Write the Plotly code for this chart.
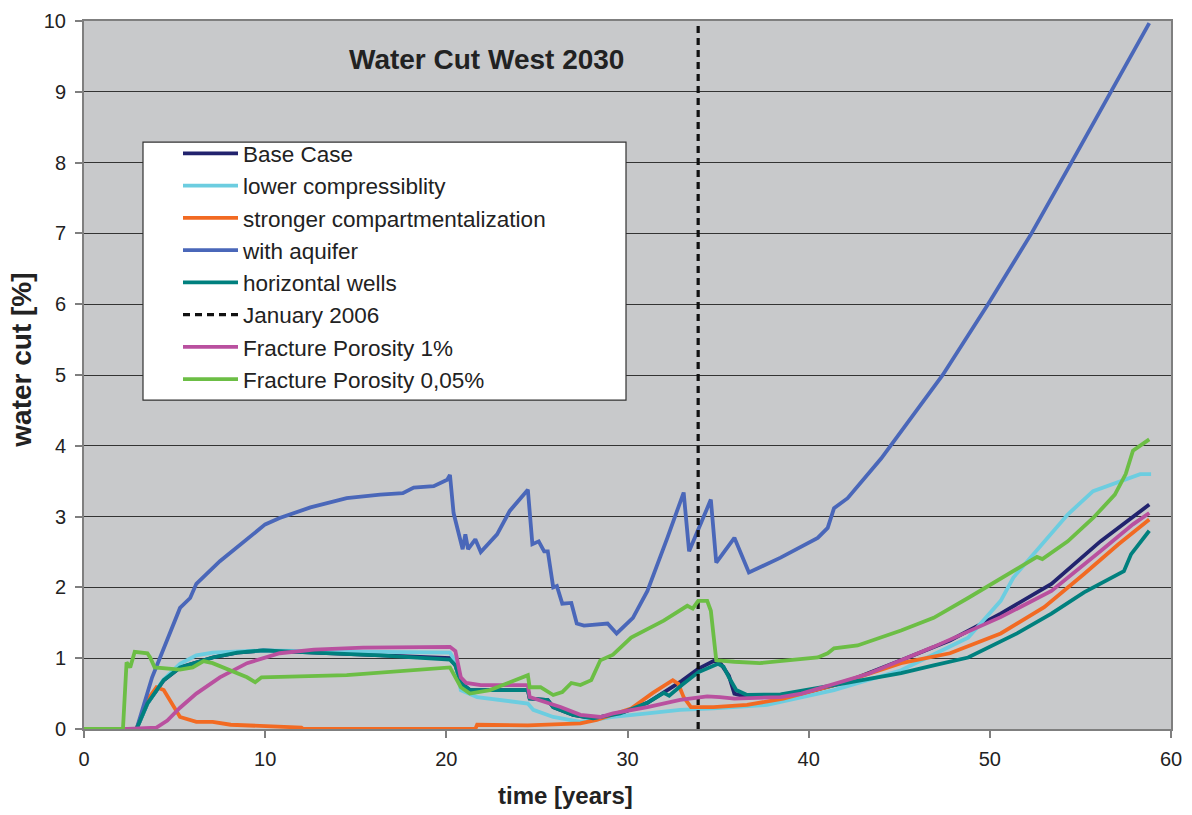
import plotly.graph_objects as go

# ---------------- data (time in years, water cut in %) ----------------
t_base = [0, 2.9, 3.5, 4.4, 5.3, 7.1, 8.45, 9.9, 12.7, 16.35, 20.2, 20.5, 20.8, 21.3, 24.5, 24.6, 25.6, 25.9,
          27.0, 28.1, 29.6, 31.1, 32.0, 32.5, 33.0, 33.9, 34.75, 35.1, 35.6, 35.9, 36.6, 38.45, 39.6, 41.4, 42.3,
          45.1, 47.8, 50.6, 53.4, 56.1, 58.8]
wc_base = [0, 0, 0.36, 0.69, 0.87, 1.01, 1.08, 1.11, 1.08, 1.04, 1.0, 0.9, 0.65, 0.55, 0.55, 0.43, 0.41, 0.31,
           0.2, 0.15, 0.22, 0.37, 0.51, 0.6, 0.68, 0.85, 0.96, 0.94, 0.75, 0.5, 0.45, 0.48, 0.5, 0.62, 0.69,
           0.97, 1.25, 1.63, 2.05, 2.65, 3.17]

t_lowc = [0, 2.9, 3.5, 4.4, 5.3, 6.2, 7.1, 8.45, 9.9, 12.7, 16.35, 20.2, 20.5, 20.8, 21.7, 24.5, 24.8, 25.9,
          27.4, 29.2, 31.1, 32.9, 34.75, 37.7, 41.4, 45.1, 48.8, 50.6, 51.3, 52.4, 54.3, 55.7, 57.2, 58.3, 58.9]
wc_lowc = [0, 0, 0.36, 0.7, 0.92, 1.04, 1.08, 1.1, 1.11, 1.1, 1.09, 1.08, 0.95, 0.55, 0.45, 0.36, 0.27, 0.17,
           0.10, 0.17, 0.22, 0.27, 0.29, 0.34, 0.55, 0.83, 1.29, 1.81, 2.14, 2.47, 3.03, 3.36, 3.50, 3.60, 3.60]

t_comp = [0, 2.9, 3.5, 4.0, 4.4, 5.1, 5.3, 6.2, 7.1, 8.1, 10.8, 12.0, 12.1, 21.6, 21.7, 24.5, 27.4, 28.3,
          30.2, 31.4, 32.5, 32.8, 33.1, 33.5, 34.75, 36.6, 38.6, 41.4, 45.1, 47.8, 50.6, 53.0, 55.2, 57.1, 58.8]
wc_comp = [0, 0, 0.41, 0.59, 0.55, 0.25, 0.17, 0.10, 0.10, 0.06, 0.03, 0.02, 0.0, 0.0, 0.06, 0.05, 0.08, 0.13,
           0.29, 0.51, 0.69, 0.64, 0.45, 0.31, 0.31, 0.34, 0.43, 0.62, 0.93, 1.07, 1.35, 1.72, 2.19, 2.61, 2.96]

t_aqui = [0, 2.9, 3.76, 4.2, 5.3, 5.86, 6.2, 7.5, 10.0, 10.8, 12.5, 14.5, 16.35, 17.6, 18.2, 19.3, 20.05, 20.2,
          20.4, 20.9, 21.05, 21.2, 21.6, 21.9, 22.8, 23.5, 24.5, 24.75, 25.1, 25.4, 25.6, 25.9, 26.1, 26.4, 26.9,
          27.2, 27.6, 28.9, 29.4, 30.3, 31.1, 32.2, 33.1, 33.4, 34.6, 34.9, 35.9, 36.7, 38.45, 40.5, 41.05, 41.4,
          42.15, 44.0, 45.6, 47.4, 49.9, 52.3, 54.5, 56.7, 58.8]
wc_aqui = [0, 0, 0.73, 1.0, 1.71, 1.85, 2.05, 2.37, 2.89, 2.98, 3.13, 3.26, 3.31, 3.33, 3.41, 3.43, 3.52, 3.59,
           3.05, 2.54, 2.75, 2.54, 2.68, 2.5, 2.75, 3.08, 3.38, 2.61, 2.65, 2.51, 2.51, 2.0, 2.02, 1.77, 1.78,
           1.49, 1.46, 1.49, 1.35, 1.57, 1.95, 2.70, 3.34, 2.51, 3.24, 2.35, 2.70, 2.21, 2.42, 2.70, 2.84, 3.12,
           3.26, 3.82, 4.38, 5.0, 6.0, 7.0, 8.0, 9.0, 9.97]

t_horw = [0, 2.9, 3.5, 4.4, 5.3, 7.1, 8.45, 9.9, 12.7, 16.35, 20.2, 20.5, 20.8, 21.3, 24.5, 24.6, 25.6, 25.9,
          27.0, 28.1, 29.6, 31.1, 32.0, 32.3, 33.0, 33.9, 35.0, 35.3, 35.6, 36.0, 36.6, 38.45, 41.4, 45.1, 46.9,
          48.8, 51.5, 53.4, 55.2, 57.4, 57.8, 58.8]
wc_horw = [0, 0, 0.36, 0.69, 0.87, 1.01, 1.08, 1.11, 1.08, 1.04, 0.98, 0.9, 0.65, 0.55, 0.55, 0.43, 0.41, 0.31,
           0.2, 0.15, 0.22, 0.37, 0.51, 0.47, 0.62, 0.80, 0.92, 0.88, 0.73, 0.55, 0.48, 0.49, 0.62, 0.79, 0.9,
           1.01, 1.35, 1.63, 1.93, 2.23, 2.47, 2.8]

t_jan06 = [33.9, 33.9]
wc_jan06 = [0, 10]

t_fp1 = [0, 2.4, 4.0, 4.6, 5.3, 6.2, 7.5, 9.0, 10.8, 12.7, 15.4, 20.2, 20.5, 20.8, 21.1, 21.9, 24.5, 24.6, 25.7,
         26.3, 27.4, 28.5, 29.2, 31.1, 32.9, 34.4, 35.1, 35.9, 38.45, 39.6, 43.3, 46.9, 50.6, 53.4, 56.1, 57.9, 58.8]
wc_fp1 = [0, 0, 0.02, 0.12, 0.3, 0.5, 0.73, 0.93, 1.07, 1.12, 1.15, 1.16, 1.1, 0.73, 0.65, 0.62, 0.62, 0.45, 0.36,
          0.31, 0.20, 0.17, 0.22, 0.31, 0.41, 0.46, 0.45, 0.43, 0.45, 0.5, 0.78, 1.16, 1.58, 1.95, 2.51, 2.89, 3.05]

t_fp005 = [0, 2.15, 2.35, 2.55, 2.8, 3.5, 3.65, 3.9, 5.3, 6.0, 6.6, 7.1, 9.0, 9.45, 9.8, 14.5, 20.2, 20.8, 21.3,
           22.4, 24.5, 24.6, 25.2, 25.9, 26.4, 26.9, 27.4, 28.0, 28.5, 29.2, 30.2, 32.0, 33.3, 33.6, 33.9, 34.4,
           34.6, 34.9, 35.9, 37.3, 40.5, 41.05, 41.4, 42.7, 45.1, 46.9, 48.8, 50.6, 52.6, 52.9, 54.3, 55.7, 56.9,
           57.5, 57.8, 57.9, 58.8]
wc_fp005 = [0, 0, 0.94, 0.87, 1.09, 1.07, 1.01, 0.87, 0.84, 0.87, 0.96, 0.93, 0.73, 0.66, 0.73, 0.76, 0.87, 0.59,
            0.5, 0.55, 0.76, 0.59, 0.59, 0.48, 0.52, 0.65, 0.62, 0.69, 0.97, 1.05, 1.29, 1.53, 1.74, 1.70, 1.81,
            1.81, 1.67, 0.97, 0.95, 0.93, 1.01, 1.07, 1.14, 1.18, 1.39, 1.57, 1.85, 2.13, 2.43, 2.40, 2.65, 2.98,
            3.31, 3.60, 3.88, 3.93, 4.09]

x_ticks = [0, 10, 20, 30, 40, 50, 60]
y_ticks = [0, 1, 2, 3, 4, 5, 6, 7, 8, 9, 10]

series = [
    ("Base Case", t_base, wc_base, "#22236E", "solid"),
    ("lower compressiblity", t_lowc, wc_lowc, "#6CCDE0", "solid"),
    ("stronger compartmentalization", t_comp, wc_comp, "#F26A22", "solid"),
    ("with aquifer", t_aqui, wc_aqui, "#4A67B9", "solid"),
    ("horizontal wells", t_horw, wc_horw, "#00807E", "solid"),
    ("January 2006", t_jan06, wc_jan06, "#111111", "7px,5px"),
    ("Fracture Porosity 1%", t_fp1, wc_fp1, "#B9509F", "solid"),
    ("Fracture Porosity 0,05%", t_fp005, wc_fp005, "#6CBE45", "solid"),
]

FONT = "Liberation Sans, Arial, sans-serif"

# plot area in pixels
L, R, T, B = 84, 21, 10, 86
W, H = 1192, 815
PW, PH = W - L - R, H - T - B


def px(xp):
    return (xp - L) / PW


def py(yp):
    return (H - B - yp) / PH


fig = go.Figure()
for name, t, wc, col, dash in series:
    fig.add_trace(go.Scatter(
        x=t, y=wc, mode="lines", name=name,
        line=dict(color=col, width=3.8 if dash == "solid" else 3.2, dash=dash),
    ))

# legend box (drawn as a shape so it can be wide)
fig.add_shape(type="rect", xref="paper", yref="paper",
              x0=px(143), x1=px(626), y0=py(395), y1=py(133),
              fillcolor="white", line=dict(color="#333333", width=1.2), layer="above")

fig.add_annotation(text="<b>Water Cut West 2030</b>", xref="paper", yref="paper",
                   x=px(486), y=py(49), xanchor="center", yanchor="middle", showarrow=False,
                   font=dict(family=FONT, size=28, color="#222222"))

fig.add_annotation(text="<b>time [years]</b>", xref="paper", yref="paper",
                   x=px(565), y=py(797), xanchor="center", yanchor="middle", showarrow=False,
                   font=dict(family=FONT, size=24, color="#222222"))

fig.add_annotation(text="<b>water cut [%]</b>", xref="paper", yref="paper",
                   x=px(22), y=py(355), xanchor="center", yanchor="middle", showarrow=False,
                   textangle=-90, font=dict(family=FONT, size=28, color="#222222"))

fig.update_layout(
    width=W, height=H,
    margin=dict(l=L, r=R, t=T, b=B),
    paper_bgcolor="white",
    plot_bgcolor="#C8C9CB",
    font=dict(family=FONT, size=19, color="#222222"),
    showlegend=True,
    legend=dict(
        x=px(178), y=py(123), xanchor="left", yanchor="top",
        bgcolor="rgba(0,0,0,0)", borderwidth=0,
        font=dict(family=FONT, size=22.5, color="#222222"),
        itemwidth=55, tracegroupgap=0,
    ),
    xaxis=dict(
        range=[0, 60], tickvals=x_ticks, showgrid=False, zeroline=False,
        showline=True, linecolor="#7F7F7F", linewidth=2, mirror=True,
        ticks="outside", ticklen=7, tickcolor="#7F7F7F", tickwidth=1.5,
        ticklabelstandoff=4,
        tickfont=dict(size=20, color="#222222"),
    ),
    yaxis=dict(
        range=[0, 10], tickvals=y_ticks, showgrid=True, gridcolor="#333333", gridwidth=1.2,
        zeroline=False, showline=True, linecolor="#7F7F7F", linewidth=2, mirror=True,
        ticks="outside", ticklen=7, tickcolor="#7F7F7F", tickwidth=1.5,
        ticklabelstandoff=5,
        tickfont=dict(size=20, color="#222222"),
    ),
)

fig.write_html("out.html")
